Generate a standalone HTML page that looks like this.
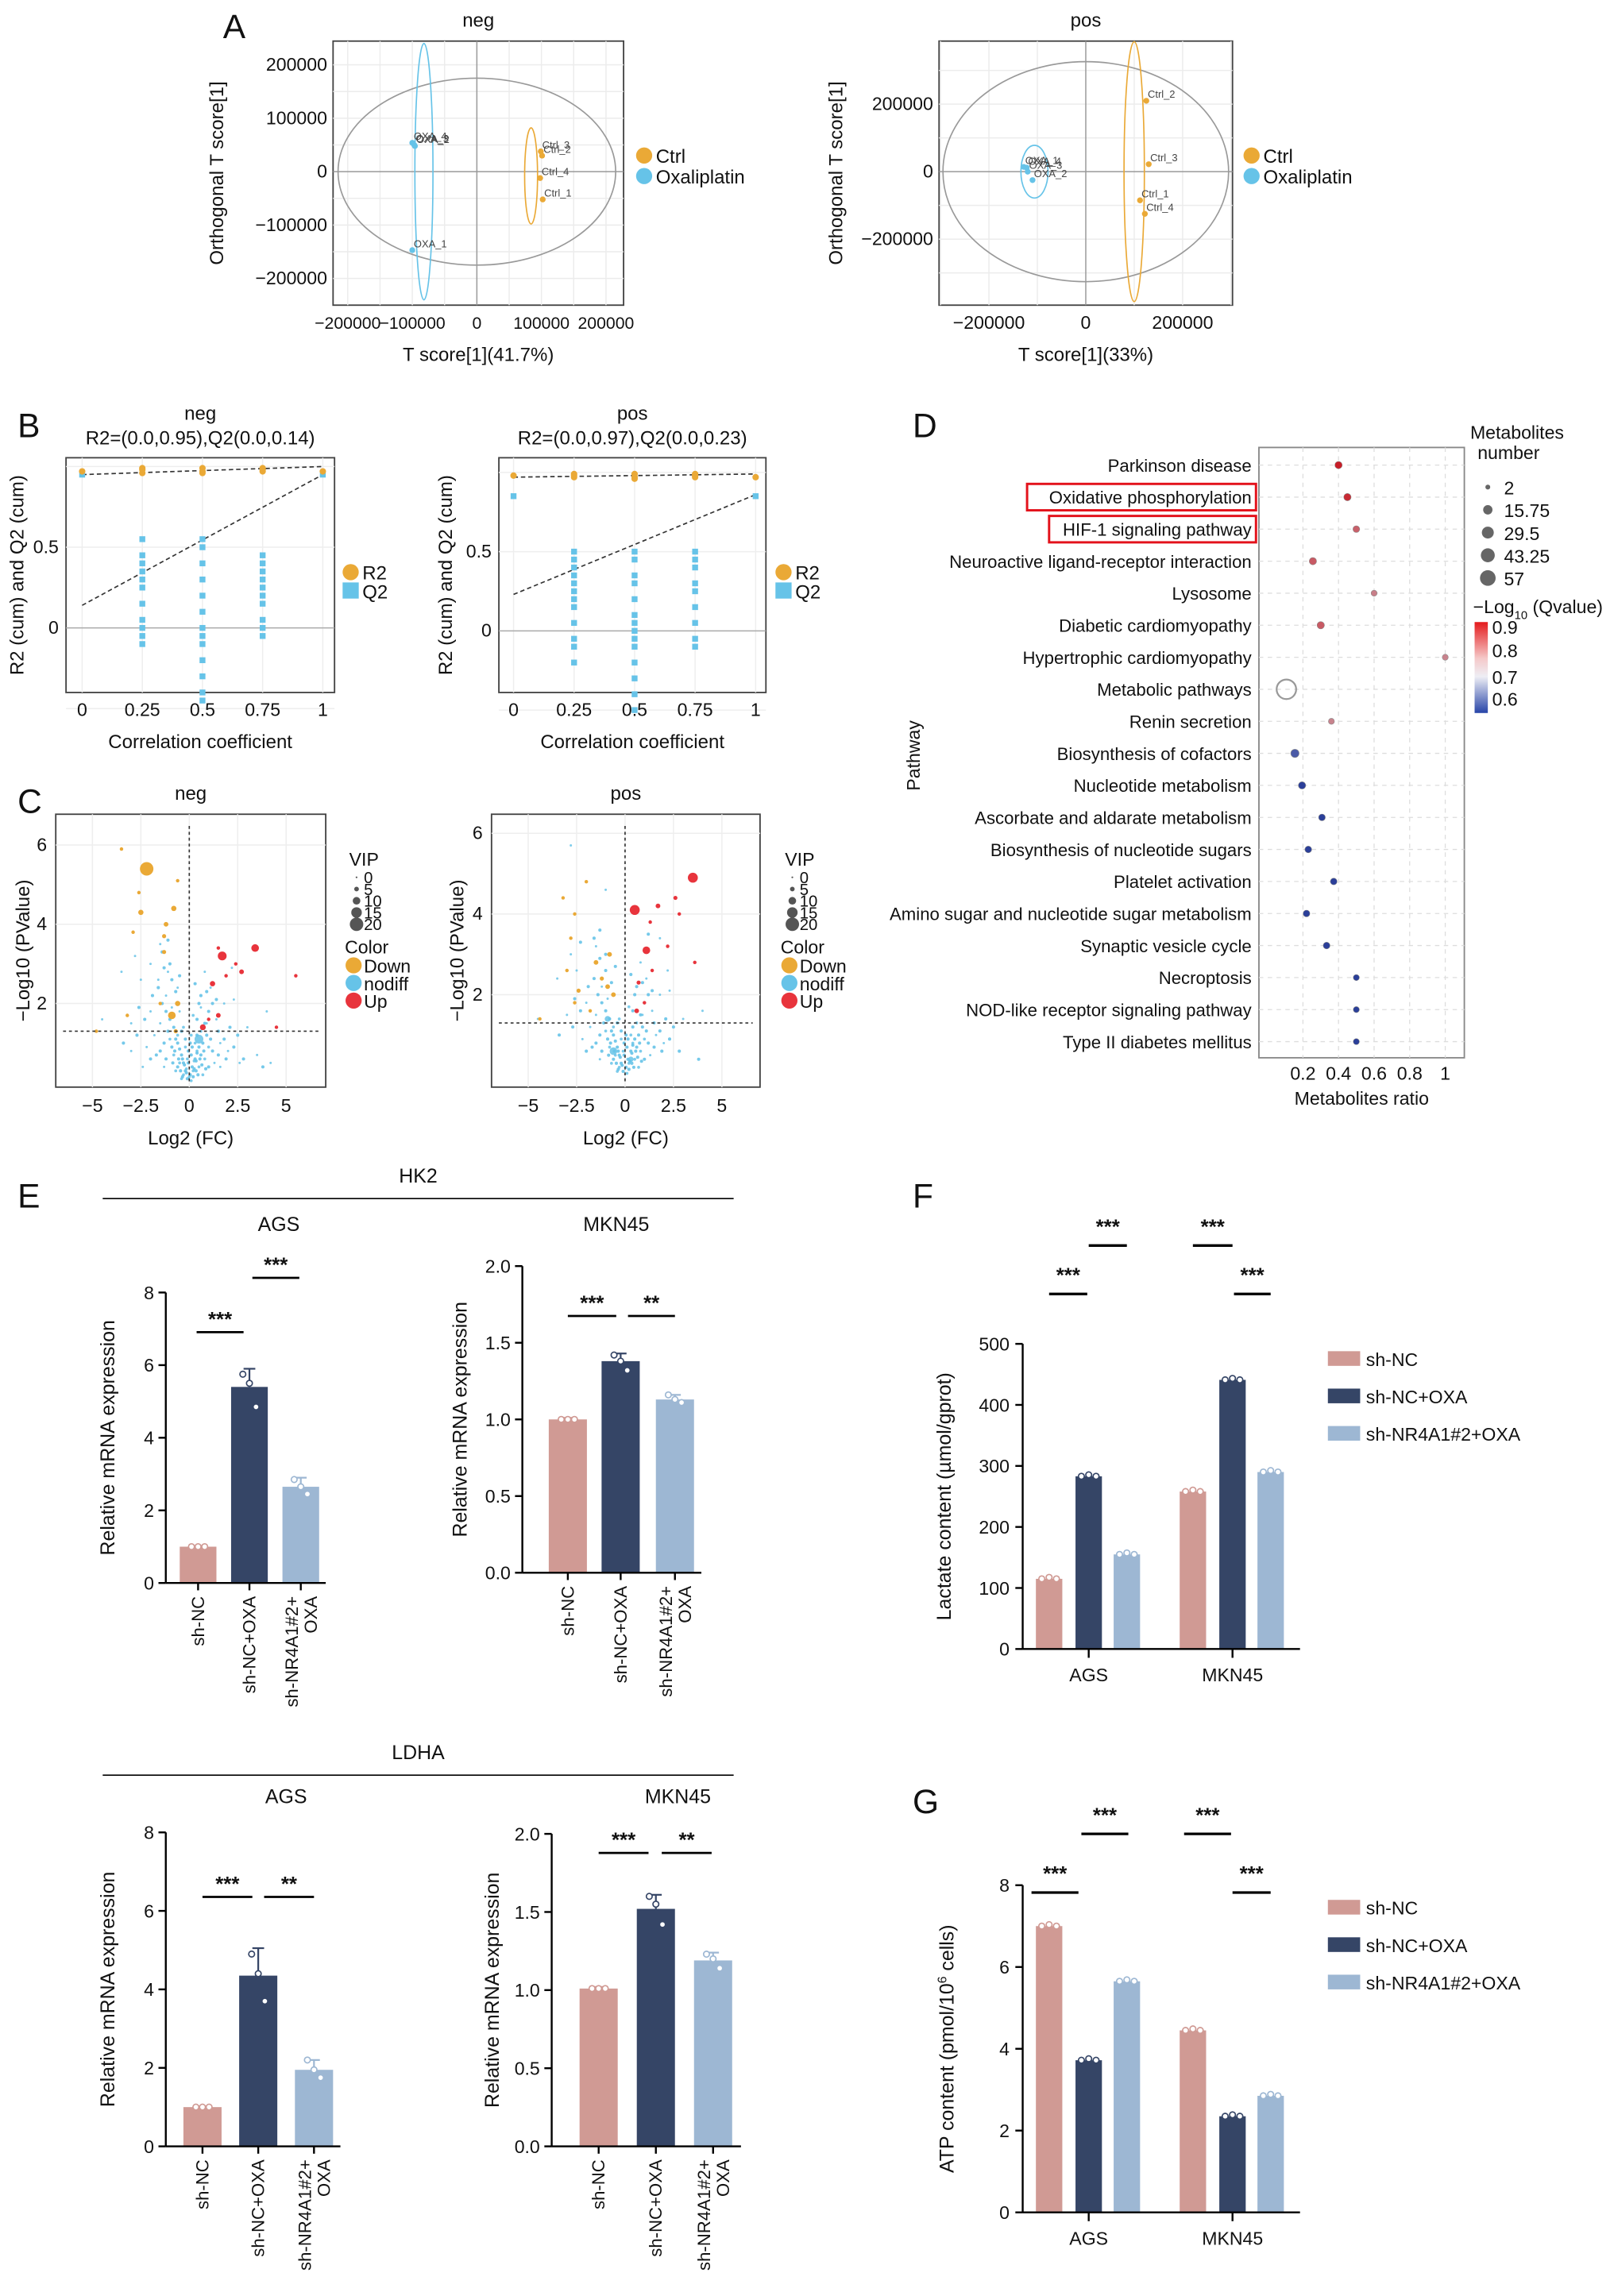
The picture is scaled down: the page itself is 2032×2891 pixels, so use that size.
<!DOCTYPE html>
<html><head><meta charset="utf-8">
<style>
html,body{margin:0;padding:0;background:#fff;}
svg{display:block;font-family:"Liberation Sans",Arial,sans-serif;}
</style></head>
<body>
<svg id="fig" xmlns="http://www.w3.org/2000/svg" width="2032" height="2891" viewBox="0 0 1100 1565"></svg>
<script>
// ---------- DATA ----------
// Panel A
const aNegLabels=['Ctrl_1','Ctrl_2','Ctrl_3','Ctrl_4','OXA_1','OXA_2','OXA_3','OXA_4'];
const aNegX=[102000,101000,99000,98000,-100000,-96000,-97000,-100000];
const aNegY=[-52000,30000,38000,-12000,-147000,48000,50000,54000];
const aPosLabels=['Ctrl_1','Ctrl_2','Ctrl_3','Ctrl_4','OXA_1','OXA_4','OXA_3','OXA_2'];
const aPosX=[112000,125000,130000,122000,-128000,-122000,-120000,-110000];
const aPosY=[-85000,210000,22000,-125000,14000,12000,0,-25000];
const aNegTicks=[-200000,-100000,0,100000,200000];
const aPosTicksX=[-200000,0,200000];
const aPosTicksY=[-200000,0,200000];
// Panel B
const bCols=[0,0.25,0.5,0.75,1];
const bNegR2=[0.97,0.99,0.96,0.98,0.97,0.99,0.96,0.98,0.97,0.99,0.97];
const bNegR2x=[0,0.25,0.25,0.25,0.5,0.5,0.5,0.75,0.75,0.75,1];
const bNegQ2=[0.95,0.55,0.45,0.4,0.35,0.3,0.25,0.15,0.05,0,-0.05,-0.1,0.55,0.5,0.4,0.3,0.2,0.1,0,-0.05,-0.1,-0.2,-0.3,-0.4,-0.45,0.45,0.4,0.35,0.3,0.25,0.2,0.15,0.05,0,-0.05,0.95];
const bNegQ2x=[0,0.25,0.25,0.25,0.25,0.25,0.25,0.25,0.25,0.25,0.25,0.25,0.5,0.5,0.5,0.5,0.5,0.5,0.5,0.5,0.5,0.5,0.5,0.5,0.5,0.75,0.75,0.75,0.75,0.75,0.75,0.75,0.75,0.75,0.75,1];
const bPosR2=[0.98,0.99,0.97,0.98,0.97,0.99,0.96,0.98,0.97,0.99,0.97];
const bPosR2x=bNegR2x;
const bPosQ2=[0.85,0.5,0.45,0.4,0.35,0.3,0.25,0.2,0.15,0.05,-0.05,-0.1,-0.2,0.5,0.45,0.35,0.3,0.2,0.1,0.05,0,-0.05,-0.1,-0.2,-0.3,-0.4,-0.5,0.5,0.45,0.4,0.3,0.25,0.15,0.05,-0.05,-0.1,0.85];
const bPosQ2x=[0,0.25,0.25,0.25,0.25,0.25,0.25,0.25,0.25,0.25,0.25,0.25,0.25,0.5,0.5,0.5,0.5,0.5,0.5,0.5,0.5,0.5,0.5,0.5,0.5,0.5,0.5,0.75,0.75,0.75,0.75,0.75,0.75,0.75,0.75,0.75,1];
const bNegFit={r2:[0.95,1.0],q2:[0.14,0.95]};
const bPosFit={r2:[0.97,0.99],q2:[0.23,0.86]};
// Panel C (fc, -log10 p, vip)
const cNegNodiff=[[-0.3,0.2],[0.2,0.3],[-0.5,0.5],[0.5,0.4],[-0.8,0.7],[0.8,0.6],[-0.2,0.9],[0.3,1.0],[-1.0,1.1],[1.0,0.9],[-0.6,1.2],[0.6,1.3],[-1.5,1.5],[1.4,1.6],[-2.0,1.8],[1.8,2.0],[-1.2,2.2],[1.1,2.4],[-2.5,2.6],[2.3,2.1],[-3,1.5],[3,1.4],[-0.4,0.1],[0.1,0.05],[-0.1,0.6],[0.4,0.8],[-0.7,0.3],[0.7,0.2],[-1.8,1.2],[1.6,1.0],[-3.5,2.8],[-2.8,3.2],[-1.5,3.5],[0.8,2.8],[2.2,2.9],[4,1.8],[-4.5,1.6],[-0.9,1.9],[0.2,1.7],[-0.3,1.4],[0.9,1.5],[-2.2,0.9],[2.0,0.8],[-1.3,0.4],[1.3,0.5],[0.0,0.15],[-0.15,0.35],[0.25,0.55],[0.5,1.1],[-1.1,2.8],[-0.6,2.4],[1.6,0.4],[2.6,0.5],[3.5,0.7],[4.2,0.5],[-3.0,0.8],[-2.4,0.4],[0.1,1.2],[-0.5,1.8],[0.6,1.9],[-1.6,2.6],[-2.0,3.0]];
const cNegNodiffVip=[2,2,2,2,2,2,2,2,2,2,2,2,1,1,1,1,1,1,1,1,1,1,2,2,2,2,2,2,1,1,1,1,1,1,1,1,1,1,2,2,1,1,1,1,1,2,2,2,12,1,1,1,1,1,1,1,1,2,1,1,1,1];
const cNegNodiffExtra=[[-0.1,0.1],[0.05,0.2],[-0.2,0.3],[0.15,0.4],[-0.3,0.5],[0.3,0.6],[-0.4,0.7],[0.4,0.75],[-0.5,0.85],[0.5,0.9],[-0.6,1.0],[0.6,0.7],[-0.7,1.1],[0.7,1.0],[-0.25,0.45],[0.25,0.35],[-0.35,0.6],[0.35,0.55],[-0.45,0.3],[0.45,0.2],[-0.9,0.9],[0.9,1.2],[-1.1,1.3],[1.1,1.1],[-1.3,1.0],[1.2,0.8],[-0.8,1.4],[0.8,1.5],[-1.0,1.6],[1.0,1.8],[-1.2,1.8],[1.2,2.0],[-1.4,2.0],[0.6,2.2],[-0.7,2.3],[-1.6,2.4],[-1.9,2.2],[-2.3,1.6],[-2.6,1.9],[1.5,1.3],[1.8,1.1],[2.1,1.4],[2.5,1.2],[-1.7,0.7],[-2.0,0.6],[1.9,0.6],[2.3,0.9],[-0.5,2.7],[-1.0,3.0],[-1.3,2.9],[0.3,2.5],[0.5,2.0],[-0.2,1.1],[0.15,0.9],[-0.05,0.5],[0.1,0.7],[-0.6,0.4],[0.65,0.45],[-0.85,0.5],[0.85,0.35],[-1.5,0.8],[1.5,0.7],[2.8,0.6],[3.8,0.4],[-3.4,1.0],[-2.7,1.2],[-0.15,0.25],[0.2,0.15],[-0.35,0.15],[0.35,0.3],[-0.55,0.6],[0.55,0.6],[-0.75,0.8],[0.75,0.8],[-0.05,0.8],[0.05,1.0],[-0.4,1.3],[0.4,1.2],[-1.2,0.6],[1.0,0.4],[-0.9,2.6],[-1.4,3.3],[-1.1,3.6],[0.9,2.3],[1.4,2.1],[0.4,1.6]];
const cNegDown=[[-2.2,5.4],[-3.5,5.9],[-2.5,4.3],[-0.8,4.4],[-1.2,4.0],[-1.3,3.3],[-1.3,3.7],[-2.9,3.8],[-0.9,1.7],[-1.5,2.0],[-0.6,2.0],[-3.2,1.7],[-4.8,1.3],[-0.7,1.3],[-2.6,4.8],[-0.6,5.1]];
const cNegDownVip=[20,3,6,6,5,4,4,3,10,3,6,3,3,4,3,3];
const cNegUp=[[3.4,3.4],[1.7,3.2],[2.7,2.8],[1.2,2.5],[1.5,1.7],[0.7,1.4],[1.9,2.7],[1.0,1.6],[1.5,3.4],[4.5,1.4],[5.5,2.7],[2.4,3.0]];
const cNegUpVip=[10,12,5,6,5,7,3,3,3,3,3,3];
const cPosNodiff=[[-0.3,0.2],[0.2,0.3],[-0.5,0.5],[0.5,0.4],[-0.8,0.7],[0.8,0.6],[-0.2,0.9],[0.3,1.0],[-1.0,1.1],[1.0,0.9],[-0.6,1.2],[0.6,1.3],[-1.5,1.5],[1.4,1.6],[-2.0,1.8],[1.8,2.0],[-1.2,2.2],[1.1,2.4],[-2.5,2.6],[2.3,2.1],[-3,1.5],[3,1.4],[-0.4,0.1],[0.1,0.05],[-0.1,0.6],[0.4,0.8],[-0.7,0.3],[0.7,0.2],[-1.8,1.2],[1.6,1.0],[-3.5,2.4],[-2.8,3.0],[-1.5,3.2],[0.8,2.8],[2.2,2.6],[4,1.6],[-4.5,1.4],[-0.9,1.9],[0.2,1.7],[-0.3,1.4],[0.9,1.5],[-2.2,0.9],[2.0,0.8],[-1.3,0.4],[1.3,0.5],[-0.6,0.6],[-0.9,1.4],[0.3,0.4],[-2.8,5.7],[-1.0,4.6],[1.8,3.4]];
const cPosNodiffVip=[2,2,2,2,2,2,2,2,2,2,2,2,1,1,1,1,1,1,1,1,1,1,2,2,2,2,2,2,1,1,1,1,1,1,1,1,1,1,2,2,1,1,1,1,1,10,7,6,1,1,1];
const cPosNodiffExtra=[[-0.1,0.1],[0.05,0.2],[-0.2,0.3],[0.15,0.4],[-0.3,0.5],[0.3,0.6],[-0.4,0.7],[0.4,0.75],[-0.5,0.85],[0.5,0.9],[-0.6,1.0],[0.6,0.7],[-0.7,1.1],[0.7,1.0],[-0.25,0.45],[0.25,0.35],[-0.35,0.6],[0.35,0.55],[-0.45,0.3],[0.45,0.2],[-0.9,0.9],[0.9,1.2],[-1.1,1.3],[1.1,1.1],[-1.3,1.0],[1.2,0.8],[-0.8,1.4],[0.8,1.5],[-1.0,1.6],[1.0,1.8],[-1.2,1.8],[1.2,2.0],[-1.4,2.0],[0.6,2.2],[-0.7,2.3],[-1.6,2.4],[-1.9,2.2],[-2.3,1.6],[-2.6,1.9],[1.5,1.3],[1.8,1.1],[2.1,1.4],[2.5,1.2],[-1.7,0.7],[-2.0,0.6],[1.9,0.6],[2.3,0.9],[-0.5,2.7],[-1.0,3.0],[-1.3,2.9],[0.3,2.5],[0.5,2.0],[-0.2,1.1],[0.15,0.9],[-0.05,0.5],[0.1,0.7],[-0.6,0.4],[0.65,0.45],[-0.85,0.5],[0.85,0.35],[-1.5,0.8],[1.5,0.7],[2.8,0.6],[3.8,0.4],[-3.4,1.0],[-2.7,1.2],[-0.15,0.25],[0.2,0.15],[-0.35,0.15],[0.35,0.3],[-0.55,0.6],[0.55,0.6],[-0.75,0.8],[0.75,0.8],[-0.05,0.8],[0.05,1.0],[-0.4,1.3],[0.4,1.2],[-1.2,0.6],[1.0,0.4],[-1.3,3.6],[-1.6,3.4],[-1.0,2.6],[0.9,2.3],[1.4,2.1],[0.4,1.6],[-2.3,3.3],[1.2,3.5]];
const cPosDown=[[-3.2,4.4],[-2.6,4.0],[-2.8,3.4],[-3.0,2.6],[-2.4,2.1],[-2.6,1.8],[-0.8,3.0],[-1.2,2.4],[-0.6,2.0],[-1.8,1.6],[-4.4,1.4],[-2.0,4.8],[-1.5,2.8],[-0.9,2.2]];
const cPosDownVip=[3,3,3,3,4,3,5,4,5,3,3,3,5,5];
const cPosUp=[[3.5,4.9],[0.5,4.1],[1.1,3.1],[1.7,4.2],[2.6,4.4],[2.8,4.0],[0.7,2.3],[1.4,2.6],[2.2,3.2],[1.0,1.8],[0.6,1.6],[3.6,2.8],[1.3,3.8]];
const cPosUpVip=[14,14,10,5,4,3,4,3,3,3,5,3,3];
// Panel D
const dPathways=['Parkinson disease','Oxidative phosphorylation','HIF-1 signaling pathway','Neuroactive ligand-receptor interaction','Lysosome','Diabetic cardiomyopathy','Hypertrophic cardiomyopathy','Metabolic pathways','Renin secretion','Biosynthesis of cofactors','Nucleotide metabolism','Ascorbate and aldarate metabolism','Biosynthesis of nucleotide sugars','Platelet activation','Amino sugar and nucleotide sugar metabolism','Synaptic vesicle cycle','Necroptosis','NOD-like receptor signaling pathway','Type II diabetes mellitus'];
const dRatio=[0.4,0.45,0.5,0.256,0.6,0.3,1.0,0.107,0.36,0.155,0.195,0.307,0.23,0.373,0.22,0.333,0.5,0.5,0.5];
const dCount=[4,4,3,4,2,4,2,57,2,6,4,3,3,3,3,3,2,2,2];
const dQval=[0.9,0.88,0.79,0.8,0.74,0.8,0.73,0.7,0.73,0.62,0.6,0.6,0.6,0.6,0.6,0.6,0.6,0.6,0.6];
const dTicks=[0.2,0.4,0.6,0.8,1];
const dSizeLegend=[2,15.75,29.5,43.25,57];
// Panel E
const eCats=['sh-NC','sh-NC+OXA','sh-NR4A1#2+OXA'];
const eHk2Ags=[1.0,5.4,2.65];
const eHk2AgsErr=[0.02,0.5,0.25];
const eHk2AgsDots=[[1.0,1.0,1.0],[5.75,5.5,4.85],[2.85,2.65,2.45]];
const eHk2Mkn=[1.0,1.38,1.13];
const eHk2MknErr=[0.01,0.05,0.03];
const eHk2MknDots=[[1.0,1.0,1.0],[1.42,1.38,1.32],[1.16,1.13,1.11]];
const eLdhaAgs=[1.0,4.35,1.95];
const eLdhaAgsErr=[0.02,0.7,0.25];
const eLdhaAgsDots=[[1.0,1.0,1.0],[4.9,4.4,3.7],[2.2,1.95,1.75]];
const eLdhaMkn=[1.01,1.52,1.19];
const eLdhaMknErr=[0.01,0.09,0.05];
const eLdhaMknDots=[[1.01,1.01,1.01],[1.6,1.55,1.42],[1.23,1.2,1.14]];
const eTicksAgs=[0,2,4,6,8];
const eTicksMkn=[0,0.5,1.0,1.5,2.0];
const eTickLabelsMkn=['0.0','0.5','1.0','1.5','2.0'];
// Panel F/G
const fgGroups=['AGS','MKN45'];
const fSeries=['sh-NC','sh-NC+OXA','sh-NR4A1#2+OXA'];
const fLactate=[[115,258],[283,441],[155,290]];
const fTicks=[0,100,200,300,400,500];
const gAtp=[[7.0,4.45],[3.72,2.35],[5.65,2.85]];
const gTicks=[0,2,4,6,8];

// ---------- HELPERS ----------
const NS='http://www.w3.org/2000/svg';
const svg=document.getElementById('fig');
function mk(tag,a,parent){const e=document.createElementNS(NS,tag);for(const k in a)e.setAttribute(k,a[k]);(parent||svg).appendChild(e);return e;}
function nm(e,n){


return e;}
function lin(d0,d1,r0,r1){return v=>r0+(v-d0)*(r1-r0)/(d1-d0);}
function txt(x,y,s,size,o,name){o=o||{};const e=mk('text',Object.assign({x:x,y:y,'font-size':size,fill:o.fill||'#111','text-anchor':o.anchor||'middle'},o.transform?{transform:o.transform}:{},o.weight?{'font-weight':o.weight}:{}));e.textContent=s;nm(e,name||'label');return e;}
function line(x1,y1,x2,y2,stroke,w,dash,name){const e=mk('line',{x1:x1,y1:y1,x2:x2,y2:y2,stroke:stroke,'stroke-width':w});if(dash)e.setAttribute('stroke-dasharray',dash);nm(e,name||'line');return e;}
const ORANGE='#eaa936',BLUE='#66c3e8',RED='#e8343c';
const C1='#d09a94',C2='#354566',C3='#9db7d3';

// panel letters
[['A',152,26],['B',12,298],['C',12,554],['D',622,298],['E',12,823],['F',622,823],['G',622,1236]].forEach(p=>{txt(p[1],p[2],p[0],23,{anchor:'start'},'panel-label-'+p[0].toLowerCase());});

// ---------- PANEL A ----------
function scoreplot(o){
  const g=mk('g',{});nm(g,o.name);
  const sx=o.sx,sy=o.sy;
  mk('rect',{x:o.x0,y:o.y0,width:o.x1-o.x0,height:o.y1-o.y0,fill:'#fff',stroke:'#444','stroke-width':1},g);
  o.gx.forEach(v=>{const e=line(sx(v),o.y0,sx(v),o.y1,'#ececec',0.8,null,'grid-x');g.appendChild(e);});
  o.gy.forEach(v=>{const e=line(o.x0,sy(v),o.x1,sy(v),'#ececec',0.8,null,'grid-y');g.appendChild(e);});
  g.appendChild(line(sx(0),o.y0,sx(0),o.y1,'#999',0.8,null,'zero-line-x'));
  g.appendChild(line(o.x0,sy(0),o.x1,sy(0),'#999',0.8,null,'zero-line-y'));
  o.ell.forEach(el=>{const e=mk('ellipse',{cx:sx(el[0]),cy:sy(el[1]),rx:Math.abs(sx(el[2])-sx(0)),ry:Math.abs(sy(el[3])-sy(0)),fill:'none',stroke:el[4],'stroke-width':0.9},g);nm(e,'confidence-ellipse');});
  o.px.forEach((v,i)=>{const isC=o.labels[i].startsWith('Ctrl');const c=mk('circle',{cx:sx(v),cy:sy(o.py[i]),r:2,fill:isC?ORANGE:BLUE},g);nm(c,'sample-point');
    const t=txt(sx(v)+1,sy(o.py[i])-2,o.labels[i],7,{anchor:'start',fill:'#444'},'sample-label');g.appendChild(t);});
  o.tx.forEach(v=>{g.appendChild(txt(sx(v),o.y1+16,(v<0?'\u2212':'')+Math.abs(v),o.fs||12.5,{},'x-tick-label'));});
  o.ty.forEach(v=>{g.appendChild(txt(o.x0-4,sy(v)+4,(v<0?'\u2212':'')+Math.abs(v),12.5,{anchor:'end'},'y-tick-label'));});
  g.appendChild(txt((o.x0+o.x1)/2,o.y0-10,o.title,13,{},'plot-title'));
  g.appendChild(txt((o.x0+o.x1)/2,o.y1+38,o.xlab,13,{},'x-axis-title'));
  g.appendChild(txt(o.ylx,(o.y0+o.y1)/2,'Orthogonal T score[1]',13,{transform:`rotate(-90 ${o.ylx} ${(o.y0+o.y1)/2})`},'y-axis-title'));
  [['Ctrl',ORANGE],['Oxaliplatin',BLUE]].forEach((l,i)=>{const c=mk('circle',{cx:o.lx,cy:106+i*14,r:5.5,fill:l[1]},g);nm(c,'legend-marker');g.appendChild(txt(o.lx+8,111+i*14,l[0],13,{anchor:'start'},'legend-entry'));});
}
scoreplot({name:'score-plot-neg',x0:227,x1:425,y0:28,y1:208,sx:lin(0,100000,325,369),sy:lin(0,100000,117,80.6),fs:11.5,
  gx:[-200000,-150000,-100000,-50000,50000,100000,150000,200000],gy:[-200000,-150000,-100000,-50000,50000,100000,150000,200000],
  ell:[[0,0,215000,175000,'#999'],[-82000,0,14000,240000,BLUE],[84000,-8000,10000,90000,ORANGE]],
  px:aNegX,py:aNegY,labels:aNegLabels,tx:aNegTicks,ty:aNegTicks,title:'neg',xlab:'T score[1](41.7%)',ylx:152,lx:439});
scoreplot({name:'score-plot-pos',x0:640,x1:840,y0:28,y1:208,sx:lin(0,200000,740,806),sy:lin(0,200000,117,71),
  gx:[-300000,-200000,-100000,100000,200000,300000],gy:[-300000,-200000,-100000,100000,200000,300000],
  ell:[[0,0,295000,326000,'#999'],[100000,0,21000,385000,ORANGE],[-106000,0,28000,78000,BLUE]],
  px:aPosX,py:aPosY,labels:aPosLabels,tx:aPosTicksX,ty:aPosTicksY,title:'pos',xlab:'T score[1](33%)',ylx:574,lx:853});

// ---------- PANEL B ----------
function permplot(o){
  const g=mk('g',{});nm(g,o.name);
  const sx=o.sx,sy=o.sy;
  mk('rect',{x:o.x0,y:o.y0,width:o.x1-o.x0,height:o.y1-o.y0,fill:'#fff',stroke:'#444','stroke-width':1},g);
  bCols.forEach(v=>g.appendChild(line(sx(v),o.y0,sx(v),o.y1,'#eee',0.8,null,'grid-x')));
  [-0.5,0.5,1].forEach(v=>g.appendChild(line(o.x0,sy(v),o.x1,sy(v),'#eee',0.8,null,'grid-y')));
  g.appendChild(line(o.x0,sy(0),o.x1,sy(0),'#aaa',0.8,null,'zero-line'));
  g.appendChild(line(sx(0),sy(o.fit.r2[0]),sx(1),sy(o.fit.r2[1]),'#333',0.9,'3,2','r2-fit-line'));
  g.appendChild(line(sx(0),sy(o.fit.q2[0]),sx(1),sy(o.fit.q2[1]),'#333',0.9,'3,2','q2-fit-line'));
  o.q2.forEach((v,i)=>{const r=mk('rect',{x:sx(o.q2x[i])-2,y:sy(v)-2,width:4,height:4,fill:BLUE},g);nm(r,'q2-point');});
  o.r2.forEach((v,i)=>{const c=mk('circle',{cx:sx(o.r2x[i]),cy:sy(v),r:2.2,fill:ORANGE},g);nm(c,'r2-point');});
  [0,0.25,0.5,0.75,1].forEach(v=>g.appendChild(txt(sx(v),o.y1+16,String(v),12.5,{},'x-tick-label')));
  [0,0.5].forEach(v=>g.appendChild(txt(o.x0-5,sy(v)+4,String(v),12.5,{anchor:'end'},'y-tick-label')));
  g.appendChild(txt((o.x0+o.x1)/2,o.y0-26,o.title,13,{},'plot-title'));
  g.appendChild(txt((o.x0+o.x1)/2,o.y0-9,o.sub,13,{},'plot-subtitle'));
  g.appendChild(txt((o.x0+o.x1)/2,o.y1+38,'Correlation coefficient',13,{},'x-axis-title'));
  g.appendChild(txt(o.ylx,(o.y0+o.y1)/2,'R2 (cum) and Q2 (cum)',13,{transform:`rotate(-90 ${o.ylx} ${(o.y0+o.y1)/2})`},'y-axis-title'));
  const c=mk('circle',{cx:o.lx,cy:390,r:5.5,fill:ORANGE},g);nm(c,'legend-marker');
  const r=mk('rect',{x:o.lx-5.5,y:397,width:11,height:11,fill:BLUE},g);nm(r,'legend-marker');
  g.appendChild(txt(o.lx+8,395,'R2',13,{anchor:'start'},'legend-entry'));
  g.appendChild(txt(o.lx+8,408,'Q2',13,{anchor:'start'},'legend-entry'));
}
permplot({name:'permutation-plot-neg',x0:45,x1:228,y0:312,y1:472,sx:lin(0,1,56,220),sy:lin(0,1,428,318),fit:bNegFit,r2:bNegR2,r2x:bNegR2x,q2:bNegQ2,q2x:bNegQ2x,title:'neg',sub:'R2=(0.0,0.95),Q2(0.0,0.14)',ylx:16,lx:239});
permplot({name:'permutation-plot-pos',x0:340,x1:522,y0:312,y1:472,sx:lin(0,1,350,515),sy:lin(0,1,430,322),fit:bPosFit,r2:bPosR2,r2x:bPosR2x,q2:bPosQ2,q2x:bPosQ2x,title:'pos',sub:'R2=(0.0,0.97),Q2(0.0,0.23)',ylx:308,lx:534});

// ---------- PANEL C ----------
function volcano(o){
  const g=mk('g',{});nm(g,o.name);
  const sx=o.sx,sy=o.sy;
  mk('rect',{x:o.x0,y:o.y0,width:o.x1-o.x0,height:o.y1-o.y0,fill:'#fff',stroke:'#444','stroke-width':1},g);
  [-5,-2.5,0,2.5,5].forEach(v=>g.appendChild(line(sx(v),o.y0,sx(v),o.y1,'#eee',0.8,null,'grid-x')));
  [2,4,6].forEach(v=>g.appendChild(line(o.x0,sy(v),o.x1,sy(v),'#eee',0.8,null,'grid-y')));
  const rv=v=>0.6+v*0.2;
  o.extra.forEach(p=>{const c=mk('circle',{cx:sx(p[0]),cy:sy(p[1]),r:1.1,fill:BLUE,opacity:0.9},g);nm(c,'nodiff-point');});
  o.nod.forEach((p,i)=>{const c=mk('circle',{cx:sx(p[0]),cy:sy(p[1]),r:rv(o.nodV[i]),fill:BLUE,opacity:0.85},g);nm(c,'nodiff-point');});
  o.down.forEach((p,i)=>{const c=mk('circle',{cx:sx(p[0]),cy:sy(p[1]),r:rv(o.downV[i]),fill:ORANGE},g);nm(c,'down-point');});
  o.up.forEach((p,i)=>{const c=mk('circle',{cx:sx(p[0]),cy:sy(p[1]),r:rv(o.upV[i]),fill:RED},g);nm(c,'up-point');});
  g.appendChild(line(o.x0+5,sy(1.3),o.x1-5,sy(1.3),'#333',0.9,'2,2','p-threshold-line'));
  g.appendChild(line(sx(0),o.y0+8,sx(0),o.y1-4,'#333',0.9,'2,2','fc-zero-line'));
  [-5,-2.5,0,2.5,5].forEach(v=>g.appendChild(txt(sx(v),o.y1+17,(v<0?'\u2212':'')+Math.abs(v),12.5,{},'x-tick-label')));
  [2,4,6].forEach(v=>g.appendChild(txt(o.x0-6,sy(v)+4,String(v),12.5,{anchor:'end'},'y-tick-label')));
  g.appendChild(txt((o.x0+o.x1)/2,o.y0-10,o.title,13,{},'plot-title'));
  g.appendChild(txt((o.x0+o.x1)/2,o.y1+39,'Log2 (FC)',13,{},'x-axis-title'));
  g.appendChild(txt(o.ylx,(o.y0+o.y1)/2,'\u2212Log10 (PValue)',13,{transform:`rotate(-90 ${o.ylx} ${(o.y0+o.y1)/2})`},'y-axis-title'));
  const lx=o.lx;
  g.appendChild(txt(lx-5,590,'VIP',12.5,{anchor:'start'},'legend-title'));
  [0,5,10,15,20].forEach((v,i)=>{const c=mk('circle',{cx:lx,cy:598+i*8,r:rv(v),fill:'#555'},g);nm(c,'vip-legend-marker');g.appendChild(txt(lx+5,602+i*8,String(v),11,{anchor:'start'},'vip-legend-label'));});
  g.appendChild(txt(lx-8,650,'Color',12.5,{anchor:'start'},'legend-title'));
  [['Down',ORANGE],['nodiff',BLUE],['Up',RED]].forEach((l,i)=>{const c=mk('circle',{cx:lx-2,cy:658+i*12,r:5.5,fill:l[1]},g);nm(c,'legend-marker');g.appendChild(txt(lx+5,663+i*12,l[0],12.5,{anchor:'start'},'legend-entry'));});
}
volcano({name:'volcano-neg',x0:38,x1:222,y0:555,y1:741,sx:lin(0,2.5,129,162),sy:lin(0,2,738,684),nod:cNegNodiff,nodV:cNegNodiffVip,extra:cNegNodiffExtra,down:cNegDown,downV:cNegDownVip,up:cNegUp,upV:cNegUpVip,title:'neg',ylx:20,lx:243});
volcano({name:'volcano-pos',x0:335,x1:518,y0:555,y1:741,sx:lin(0,2.5,426,459),sy:lin(0,2,733,678),nod:cPosNodiff,nodV:cPosNodiffVip,extra:cPosNodiffExtra,down:cPosDown,downV:cPosDownVip,up:cPosUp,upV:cPosUpVip,title:'pos',ylx:316,lx:540});

// ---------- PANEL D ----------
(function(){
  const g=mk('g',{});nm(g,'pathway-bubble-chart');
  const x0=858,x1=998,y0=305,y1=721;
  const sx=lin(0.2,1,888,985);
  const sy=i=>317+i*(710-317)/18;
  mk('rect',{x:x0,y:y0,width:x1-x0,height:y1-y0,fill:'#fff',stroke:'#888','stroke-width':1},g);
  dTicks.forEach(v=>g.appendChild(line(sx(v),y0,sx(v),y1,'#ddd',0.7,'3,3','grid-x')));
  dPathways.forEach((p,i)=>g.appendChild(line(x0,sy(i),x1,sy(i),'#ddd',0.7,'3,3','grid-y')));
  function qcol(q){const t=Math.max(0,Math.min(1,(q-0.6)/0.3));
    if(t<0.33){const u=t/0.33;return `rgb(${Math.round(43+u*(200-43))},${Math.round(63+u*(200-63))},${Math.round(153+u*(220-153))})`;}
    const u=(t-0.33)/0.67;return `rgb(${Math.round(200+u*(200-200))},${Math.round(150-u*(150-30))},${Math.round(160-u*(160-40))})`;}
  const rs=n=>1.0+Math.sqrt(n)*0.75;
  dPathways.forEach((p,i)=>{
    const t=txt(853,sy(i)+4.5,p,12,{anchor:'end'},'pathway-label');g.appendChild(t);
    const big=dCount[i]>40;
    const c=mk('circle',{cx:sx(dRatio[i]),cy:sy(i),r:rs(dCount[i]),fill:big?'none':qcol(dQval[i]),stroke:big?'#999':'#888','stroke-width':big?1.2:0.3},g);nm(c,'pathway-bubble');
  });
  [[1,700,856],[2,715,856]].forEach(b=>{const r=mk('rect',{x:b[1],y:sy(b[0])-9,width:b[2]-b[1],height:18,fill:'none',stroke:'#e3121b','stroke-width':1.6},g);nm(r,'highlight-box');});
  dTicks.forEach(v=>g.appendChild(txt(sx(v),y1+15,String(v),12.5,{},'x-tick-label')));
  g.appendChild(txt(928,y1+32,'Metabolites ratio',12.5,{},'x-axis-title'));
  g.appendChild(txt(627,515,'Pathway',12.5,{transform:'rotate(-90 627 515)'},'y-axis-title'));
  g.appendChild(txt(1002,299,'Metabolites',12.5,{anchor:'start'},'size-legend-title'));
  g.appendChild(txt(1007,313,'number',12.5,{anchor:'start'},'size-legend-title'));
  dSizeLegend.forEach((v,i)=>{const c=mk('circle',{cx:1014,cy:332+i*15.5,r:rs(v)*0.8,fill:'#666'},g);nm(c,'size-legend-marker');g.appendChild(txt(1025,337+i*15.5,String(v),12.5,{anchor:'start'},'size-legend-label'));});
  const tt=txt(1004,418,'\u2212Log',12.5,{anchor:'start'},'color-legend-title');g.appendChild(tt);
  const sub=mk('tspan',{'font-size':8,dy:4});sub.textContent='10';tt.appendChild(sub);
  const rest=mk('tspan',{dy:-4});rest.textContent=' (Qvalue)';tt.appendChild(rest);
  const defs=mk('defs',{},g);const lg=mk('linearGradient',{id:'qgrad',x1:0,y1:0,x2:0,y2:1},defs);
  [['0','#e41a1c'],['0.4','#f5c9c9'],['0.6','#eeeef5'],['1','#2744a8']].forEach(s=>mk('stop',{offset:s[0],'stop-color':s[1]},lg));
  const cb=mk('rect',{x:1005,y:424,width:9,height:62,fill:'url(#qgrad)'},g);nm(cb,'color-bar');
  [['0.9',432],['0.8',448],['0.7',466],['0.6',481]].forEach(l=>g.appendChild(txt(1017,l[1],l[0],12.5,{anchor:'start'},'color-bar-label')));
})();

// ---------- PANEL E ----------
function barPanel(o){
  const g=mk('g',{});nm(g,o.name);
  const sy=lin(o.t0,o.t1,o.py0,o.py1);
  const cols=[C1,C2,C3];
  o.vals.forEach((v,i)=>{const cx=o.cx[i];
    const b=mk('rect',{x:cx-o.bw/2,y:sy(v),width:o.bw,height:sy(0)-sy(v),fill:cols[i]},g);nm(b,'bar-'+eCats[i].toLowerCase().replace(/[^a-z0-9]+/g,'-'));
    const e1=line(cx,sy(v),cx,sy(v+o.err[i]),cols[i],1.2,null,'error-bar');g.appendChild(e1);
    g.appendChild(line(cx-4,sy(v+o.err[i]),cx+4,sy(v+o.err[i]),cols[i],1.2,null,'error-cap'));
    o.dots[i].forEach((d,j)=>{const c=mk('circle',{cx:cx+(j-1)*4.5,cy:sy(d),r:2,fill:'#fff',stroke:cols[i],'stroke-width':0.9},g);nm(c,'replicate-dot');});
  });
  g.appendChild(line(o.ax,o.py1,o.ax,sy(0),'#000',1.3,null,'y-axis'));
  g.appendChild(line(o.ax,sy(0),o.ax2,sy(0),'#000',1.3,null,'x-axis'));
  o.ticks.forEach((v,i)=>{g.appendChild(line(o.ax-5,sy(v),o.ax,sy(v),'#000',1.3,null,'y-tick'));g.appendChild(txt(o.ax-8,sy(v)+4.5,o.tl?o.tl[i]:String(v),12.5,{anchor:'end'},'y-tick-label'));});
  o.cx.forEach((cx,i)=>{g.appendChild(line(cx,sy(0),cx,sy(0)+5,'#000',1.3,null,'x-tick'));
    const ty=sy(0)+9;
    if(i<2){g.appendChild(txt(cx+4,ty,eCats[i],12,{anchor:'end',transform:`rotate(-90 ${cx+4} ${ty})`},'x-tick-label'));}
    else{g.appendChild(txt(cx-2,ty,'sh-NR4A1#2+',12,{anchor:'end',transform:`rotate(-90 ${cx-2} ${ty})`},'x-tick-label'));
      g.appendChild(txt(cx+11,ty,'OXA',12,{anchor:'end',transform:`rotate(-90 ${cx+11} ${ty})`},'x-tick-label'));}
  });
  g.appendChild(txt(o.ylx,(o.py1+sy(0))/2,'Relative mRNA expression',13.5,{transform:`rotate(-90 ${o.ylx} ${(o.py1+sy(0))/2})`},'y-axis-title'));
  g.appendChild(txt(o.titleX,o.titleY,o.title,13.5,{},'chart-title'));
  o.sig.forEach(s=>{g.appendChild(line(s[0],s[2],s[1],s[2],'#000',1.5,null,'significance-bar'));g.appendChild(txt((s[0]+s[1])/2,s[2]-4,s[3],14,{weight:'bold'},'significance-label'));});
}
txt(285,806,'HK2',13.5,{},'gene-title-hk2');
line(70,817,500,817,'#000',0.9,null,'gene-title-underline');
txt(285,1199,'LDHA',13.5,{},'gene-title-ldha');
line(70,1210,500,1210,'#000',0.9,null,'gene-title-underline');
barPanel({name:'hk2-ags-chart',vals:eHk2Ags,err:eHk2AgsErr,dots:eHk2AgsDots,t0:0,t1:8,py0:1079,py1:881,cx:[135,170,205],bw:25,ax:113,ax2:222,ticks:eTicksAgs,ylx:78,title:'AGS',titleX:190,titleY:839,
  sig:[[134,166,908,'***'],[172,204,871,'***']]});
barPanel({name:'hk2-mkn45-chart',vals:eHk2Mkn,err:eHk2MknErr,dots:eHk2MknDots,t0:0,t1:2,py0:1072,py1:863,cx:[387,423,460],bw:26,ax:356,ax2:478,ticks:eTicksMkn,tl:eTickLabelsMkn,ylx:318,title:'MKN45',titleX:420,titleY:839,
  sig:[[387,420,897,'***'],[428,460,897,'**']]});
barPanel({name:'ldha-ags-chart',vals:eLdhaAgs,err:eLdhaAgsErr,dots:eLdhaAgsDots,t0:0,t1:8,py0:1463,py1:1249,cx:[138,176,214],bw:26,ax:113,ax2:232,ticks:eTicksAgs,ylx:78,title:'AGS',titleX:195,titleY:1229,
  sig:[[138,172,1293,'***'],[180,214,1293,'**']]});
barPanel({name:'ldha-mkn45-chart',vals:eLdhaMkn,err:eLdhaMknErr,dots:eLdhaMknDots,t0:0,t1:2,py0:1463,py1:1250,cx:[408,447,486],bw:26,ax:376,ax2:505,ticks:eTicksMkn,tl:eTickLabelsMkn,ylx:340,title:'MKN45',titleX:462,titleY:1229,
  sig:[[408,442,1263,'***'],[451,485,1263,'**']]});

// ---------- PANEL F / G ----------
function groupPanel(o){
  const g=mk('g',{});nm(g,o.name);
  const sy=lin(0,o.tmax,o.py0,o.py1);
  const cols=[C1,C2,C3];const gc=[742,840];const off=[-27,0,26];
  o.vals.forEach((ser,si)=>ser.forEach((v,gi)=>{const cx=gc[gi]+off[si];
    const b=mk('rect',{x:cx-9,y:sy(v),width:18,height:sy(0)-sy(v),fill:cols[si]},g);nm(b,'bar-'+fgGroups[gi].toLowerCase()+'-'+fSeries[si].toLowerCase().replace(/[^a-z0-9]+/g,'-'));
    [-1,0,1].forEach(j=>{const c=mk('circle',{cx:cx+j*5,cy:sy(v)-(j===0?1:0),r:2,fill:'#fff',stroke:cols[si],'stroke-width':0.9},g);nm(c,'replicate-dot');});
  }));
  g.appendChild(line(697,o.py1,697,sy(0),'#000',1.3,null,'y-axis'));
  g.appendChild(line(697,sy(0),886,sy(0),'#000',1.3,null,'x-axis'));
  o.ticks.forEach(v=>{g.appendChild(line(692,sy(v),697,sy(v),'#000',1.3,null,'y-tick'));g.appendChild(txt(688,sy(v)+4.5,String(v),12.5,{anchor:'end'},'y-tick-label'));});
  gc.forEach((cx,i)=>{g.appendChild(line(cx,sy(0),cx,sy(0)+6,'#000',1.3,null,'x-tick'));g.appendChild(txt(cx,sy(0)+22,fgGroups[i],12.5,{},'x-tick-label'));});
  const my=(o.py1+sy(0))/2;
  const yt=txt(o.ylx,my,'',13.5,{transform:`rotate(-90 ${o.ylx} ${my})`},'y-axis-title');g.appendChild(yt);
  o.ylab.forEach(p=>{const s=mk('tspan',p[1]?{'font-size':8.5,dy:-5}:{dy:p[2]||0},yt);s.textContent=p[0];});
  fSeries.forEach((s,i)=>{const r=mk('rect',{x:905,y:o.ly+i*25.5-6,width:22,height:10,fill:cols[i]},g);nm(r,'legend-swatch');g.appendChild(txt(931,o.ly+i*25.5+4,s,12.5,{anchor:'start'},'legend-entry'));});
  o.sig.forEach(s=>{g.appendChild(line(s[0],s[2],s[1],s[2],'#000',1.8,null,'significance-bar'));g.appendChild(txt((s[0]+s[1])/2,s[2]-8,'***',14,{weight:'bold'},'significance-label'));});
}
groupPanel({name:'lactate-chart',vals:fLactate,tmax:500,py0:1124,py1:916,ticks:fTicks,ylx:648,ly:927,
  ylab:[['Lactate content (\u00b5mol/gprot)',false]],
  sig:[[715,741,882,'***'],[742,768,849,'***'],[813,840,849,'***'],[841,866,882,'***']]});
groupPanel({name:'atp-chart',vals:gAtp,tmax:8,py0:1508,py1:1285,ticks:gTicks,ylx:650,ly:1301,
  ylab:[['ATP content (pmol/10',false],['6',true],[' cells)',false,5]],
  sig:[[703,735,1290,'***'],[737,769,1250,'***'],[807,839,1250,'***'],[840,866,1290,'***']]});
</script>
</body></html>
